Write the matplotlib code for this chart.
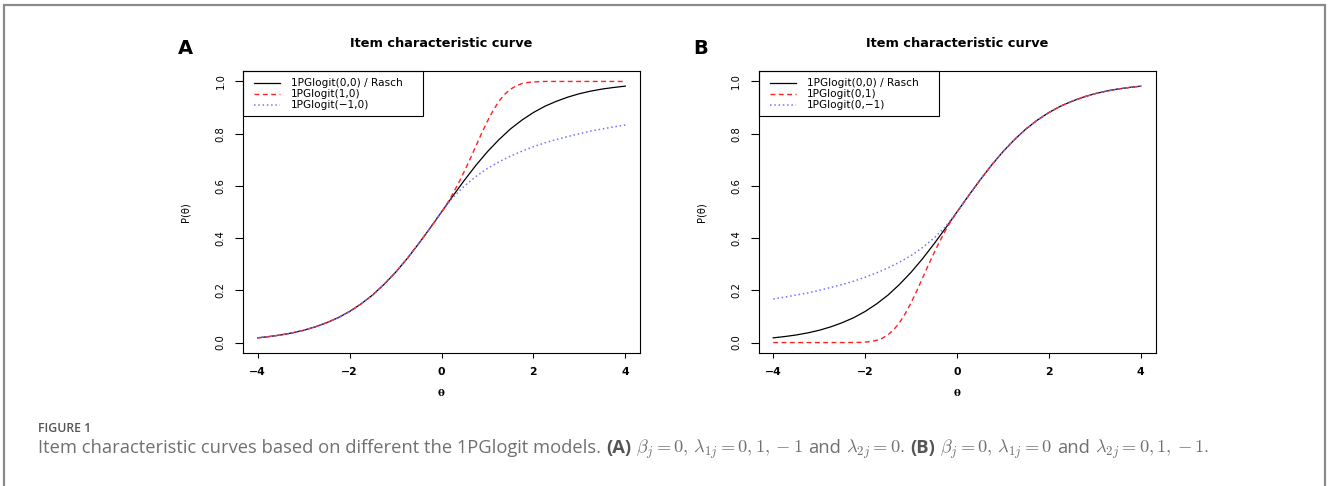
import matplotlib
matplotlib.use("Agg")
import matplotlib.pyplot as plt
from matplotlib.patches import Rectangle
from matplotlib.lines import Line2D

# ---------------- data ----------------
theta = [-4.0, -3.75, -3.5, -3.25, -3.0, -2.75, -2.5, -2.25, -2.0, -1.75, -1.5, -1.25,
         -1.0, -0.75, -0.5, -0.25, 0.0, 0.25, 0.5, 0.75, 1.0, 1.25, 1.5, 1.75, 2.0,
         2.25, 2.5, 2.75, 3.0, 3.25, 3.5, 3.75, 4.0]
p_rasch = [0.018, 0.023, 0.029, 0.037, 0.047, 0.060, 0.076, 0.095, 0.119, 0.148, 0.182, 0.223,
           0.269, 0.321, 0.378, 0.438, 0.500, 0.562, 0.622, 0.679, 0.731, 0.777, 0.818, 0.852,
           0.881, 0.905, 0.924, 0.940, 0.953, 0.963, 0.971, 0.977, 0.982]

# Panel A: 1PGlogit(1,0)
theta_a_red = [-4.0, -3.75, -3.5, -3.25, -3.0, -2.75, -2.5, -2.25, -2.0, -1.75, -1.5, -1.25,
               -1.0, -0.75, -0.5, -0.25, 0.0, 0.125, 0.25, 0.375, 0.5, 0.625, 0.75, 0.875,
               1.0, 1.125, 1.25, 1.375, 1.5, 1.625, 1.75, 1.875, 2.0, 2.125, 2.25, 2.5,
               2.75, 3.0, 3.25, 3.5, 3.75, 4.0]
p_a_red = [0.018, 0.023, 0.029, 0.037, 0.047, 0.060, 0.076, 0.095, 0.119, 0.148, 0.182, 0.223,
           0.269, 0.321, 0.378, 0.438, 0.500, 0.533, 0.571, 0.612, 0.657, 0.704, 0.753, 0.802,
           0.848, 0.889, 0.924, 0.951, 0.970, 0.983, 0.992, 0.996, 0.998, 0.999, 1.000, 1.000,
           1.000, 1.000, 1.000, 1.000, 1.000, 1.000]
# Panel A: 1PGlogit(-1,0)
p_a_blue = [0.018, 0.023, 0.029, 0.037, 0.047, 0.060, 0.076, 0.095, 0.119, 0.148, 0.182, 0.223,
            0.269, 0.321, 0.378, 0.438, 0.500, 0.556, 0.600, 0.636, 0.667, 0.692, 0.714, 0.733,
            0.750, 0.765, 0.778, 0.789, 0.800, 0.810, 0.818, 0.826, 0.833]

# Panel B: 1PGlogit(0,1)
theta_b_red = [-4.0, -3.75, -3.5, -3.25, -3.0, -2.75, -2.5, -2.25, -2.125, -2.0, -1.875, -1.75,
               -1.625, -1.5, -1.375, -1.25, -1.125, -1.0, -0.875, -0.75, -0.625, -0.5, -0.375,
               -0.25, -0.125, 0.0, 0.25, 0.5, 0.75, 1.0, 1.25, 1.5, 1.75, 2.0, 2.25, 2.5,
               2.75, 3.0, 3.25, 3.5, 3.75, 4.0]
p_b_red = [0.000, 0.000, 0.000, 0.000, 0.000, 0.000, 0.000, 0.0002, 0.0006, 0.0017, 0.004, 0.0085,
           0.0166, 0.030, 0.0495, 0.0765, 0.111, 0.152, 0.198, 0.247, 0.296, 0.343, 0.388,
           0.430, 0.467, 0.500, 0.562, 0.622, 0.679, 0.731, 0.777, 0.818, 0.852, 0.881, 0.905,
           0.924, 0.940, 0.953, 0.963, 0.971, 0.977, 0.982]
# Panel B: 1PGlogit(0,-1)
p_b_blue = [0.167, 0.174, 0.182, 0.190, 0.200, 0.211, 0.222, 0.235, 0.250, 0.267, 0.286, 0.308,
            0.333, 0.364, 0.400, 0.444, 0.500, 0.562, 0.622, 0.679, 0.731, 0.777, 0.818, 0.852,
            0.881, 0.905, 0.924, 0.940, 0.953, 0.963, 0.971, 0.977, 0.982]

x_ticks = [-4, -2, 0, 2, 4]
x_ticklabels = ["\u22124", "\u22122", "0", "2", "4"]
y_ticks = [0.0, 0.2, 0.4, 0.6, 0.8, 1.0]
y_ticklabels = ["0.0", "0.2", "0.4", "0.6", "0.8", "1.0"]
panel_letters = ["A", "B"]
panel_title = "Item characteristic curve"
legend_a = ["1PGlogit(0,0) / Rasch", "1PGlogit(1,0)", "1PGlogit(\u22121,0)"]
legend_b = ["1PGlogit(0,0) / Rasch", "1PGlogit(0,1)", "1PGlogit(0,\u22121)"]

# ---------------- figure ----------------
W, H = 1328, 486
fig = plt.figure(figsize=(W / 100, H / 100), dpi=100)
fig.patch.set_facecolor("white")

plt.rcParams["font.family"] = ["DejaVu Sans"]
plt.rcParams["mathtext.fontset"] = "cm"

RED = "#ff2020"
BLUE = "#7474ff"
AX_W, AX_H = 397.0, 282.0


def make_panel(left_px, letter, series, labels):
    ax = fig.add_axes([left_px / W, (H - 353) / H, AX_W / W, AX_H / H])
    (x0, y0), (x1, y1), (x2, y2) = series
    styles = [dict(color="black", lw=0.9),
              dict(color=RED, lw=1.0, dashes=(3.5, 2.5)),
              dict(color=BLUE, lw=1.1, dashes=(1.0, 1.8))]
    ax.plot(x0, y0, **styles[0])
    ax.plot(x1, y1, **styles[1])
    ax.plot(x2, y2, **styles[2])
    ax.set_xlim(-4.32, 4.32)
    ax.set_ylim(-0.04, 1.04)
    for s in ax.spines.values():
        s.set_linewidth(0.8)
    ax.set_xticks(x_ticks)
    ax.set_xticklabels(x_ticklabels, fontsize=7.8, fontweight="bold")
    ax.set_yticks(y_ticks)
    ax.set_yticklabels(y_ticklabels, fontsize=7.2, rotation=90, va="center")
    ax.tick_params(axis="x", length=3.6, width=0.8, pad=6.5)
    ax.tick_params(axis="y", length=6.0, width=0.8, pad=6.5)
    ax.set_title(panel_title, fontsize=9.3, fontweight="bold", pad=17.5)
    ax.text(-0.1436, 0.5, "P(\u03b8)", transform=ax.transAxes, rotation=90,
            ha="center", va="center", fontsize=7.2)
    ax.text(0.5, -0.142, "\u03b8", transform=ax.transAxes, ha="center", va="center",
            fontsize=7.5, fontweight="bold", family="DejaVu Serif")
    fig.text((left_px - 58) / W, (H - 48) / H, letter, fontsize=14, fontweight="bold",
             ha="center", va="center")
    # legend box (R style), placed in pixel offsets from the top-left corner
    fx = 180.0 / AX_W
    fy = 45.0 / AX_H
    ax.add_patch(Rectangle((0, 1 - fy), fx, fy, transform=ax.transAxes, fill=False,
                           edgecolor="black", lw=0.8, zorder=5, clip_on=False))
    rows = [12.0, 22.8, 33.5]
    for st, lab, r in zip(styles, labels, rows):
        yy = 1 - r / AX_H
        ax.add_line(Line2D([11 / AX_W, 37 / AX_W], [yy, yy], transform=ax.transAxes,
                           zorder=6, **st))
        ax.text(48 / AX_W, yy, lab, transform=ax.transAxes, fontsize=7.6,
                ha="left", va="center", zorder=6)
    return ax


make_panel(243, panel_letters[0],
           [(theta, p_rasch), (theta_a_red, p_a_red), (theta, p_a_blue)], legend_a)
make_panel(758.5, panel_letters[1],
           [(theta, p_rasch), (theta_b_red, p_b_red), (theta, p_b_blue)], legend_b)

# border
fig.patches.append(Rectangle((4 / W, -0.05), 1321 / W, (H - 5) / H + 0.05, fill=False,
                             edgecolor="#8a8a8a", lw=1.6, transform=fig.transFigure,
                             clip_on=False))

# caption
CAP = "#707070"
fig.text(38 / W, (H - 432) / H, "FIGURE 1", fontsize=8.8, color="#555555",
         family="Open Sans", fontweight="semibold", va="baseline")

renderer = fig.canvas.get_renderer()
cap_fs = 13.2
pieces = [
    ("Item characteristic curves based on different the 1PGlogit models.", "n", 5),
    ("(A)", "b", 5),
    (r"$\beta_j = 0,\, \lambda_{1j} = 0, 1, -1$", "m", 5),
    ("and", "n", 5),
    (r"$\lambda_{2j} = 0.$", "m", 5),
    ("(B)", "b", 5),
    (r"$\beta_j = 0,\, \lambda_{1j} = 0$", "m", 5),
    ("and", "n", 5),
    (r"$\lambda_{2j} = 0, 1, -1.$", "m", 0),
]
x = 38.0
y = H - 453
for s, kind, gap in pieces:
    kw = dict(fontsize=cap_fs, color=CAP, va="baseline", ha="left")
    if kind == "n":
        kw["family"] = "Open Sans"
    elif kind == "b":
        kw["family"] = "Open Sans"
        kw["fontweight"] = "bold"
        kw["color"] = "#555555"
    t = fig.text(x / W, y / H, s, **kw)
    bb = t.get_window_extent(renderer)
    x = bb.x1 + gap

fig.savefig("out.png", dpi=100, facecolor="white")
